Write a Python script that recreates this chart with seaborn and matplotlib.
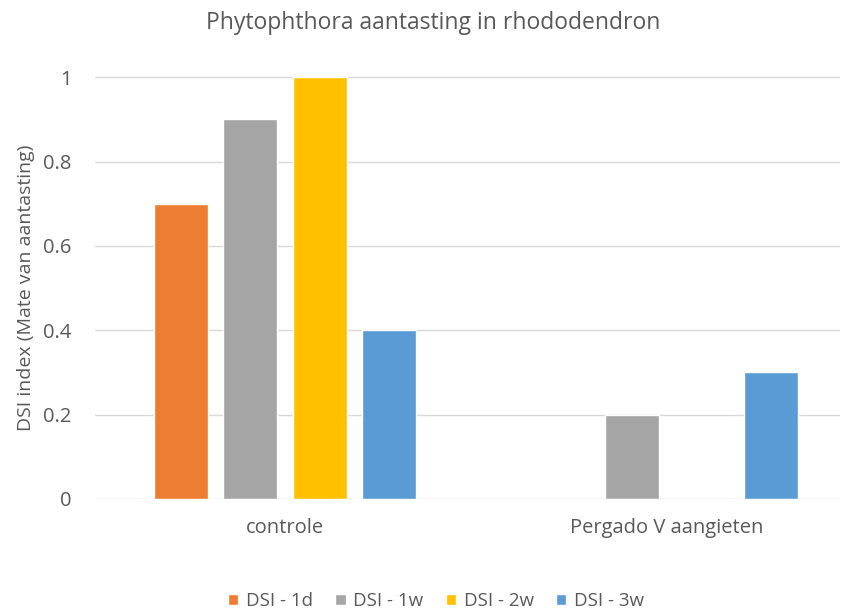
import seaborn as sns
import matplotlib.pyplot as plt
import pandas as pd

# data
categories = ["controle", "Pergado V aangieten"]
series = ["DSI - 1d", "DSI - 1w", "DSI - 2w", "DSI - 3w"]
dsi_1d = [0.7, 0.0]
dsi_1w = [0.9, 0.2]
dsi_2w = [1.0, 0.0]
dsi_3w = [0.4, 0.3]
colors = ["#ED7D31", "#A5A5A5", "#FFC000", "#5B9BD5"]

rows = []
for s, vals in zip(series, [dsi_1d, dsi_1w, dsi_2w, dsi_3w]):
    for c, v in zip(categories, vals):
        rows.append({"groep": c, "reeks": s, "DSI": v})
df = pd.DataFrame(rows)

sns.set_style("white")
plt.rcParams['font.family'] = ['Open Sans', 'DejaVu Sans']
txt = "#595959"

fig = plt.figure(figsize=(8.53, 6.09), dpi=100)
ax = fig.add_axes([95/853, 1 - 499/609, (840 - 95)/853, (499 - 76)/609])

sns.barplot(data=df, x="groep", y="DSI", hue="reeks", order=categories,
            hue_order=series, palette=colors, width=0.728, gap=0.223,
            saturation=1, ax=ax)

ax.set_xlim(-0.497, 1.4535)
ax.set_ylim(0, 1.003)
ax.set_yticks([0, 0.2, 0.4, 0.6, 0.8, 1])
ax.set_yticklabels(["0", "0.2", "0.4", "0.6", "0.8", "1"])
ax.yaxis.grid(True, color="#D9D9D9", linewidth=1)
ax.set_axisbelow(True)
for sp in ax.spines.values():
    sp.set_visible(False)
ax.tick_params(axis="both", length=0, labelsize=14.5, colors=txt)
ax.tick_params(axis="y", pad=17)
ax.tick_params(axis="x", pad=14)
ax.set_xlabel("")
ax.set_ylabel("DSI index (Mate van aantasting)", fontsize=14, color=txt)
ax.yaxis.set_label_coords(-0.08, 0.5)

fig.text(0.508, 0.962, "Phytophthora aantasting in rhododendron",
         ha="center", va="center", fontsize=16.5, color=txt)

handles, labels = ax.get_legend_handles_labels()
ax.legend(handles, labels, loc="lower center", bbox_to_anchor=(0.511, -0.03),
          bbox_transform=fig.transFigure, ncol=4, frameon=False, fontsize=13.5,
          labelcolor=txt, handlelength=0.55, handleheight=0.55, handletextpad=0.4,
          columnspacing=1.2)

fig.savefig("out.png", dpi=100)
